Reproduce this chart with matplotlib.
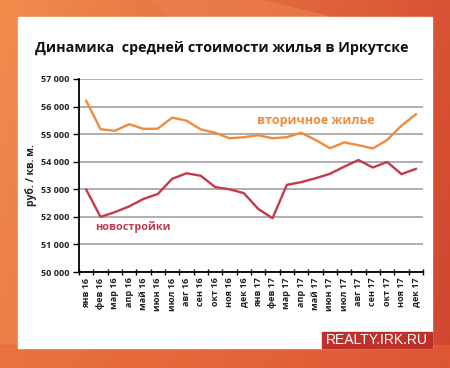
import numpy as np
import matplotlib
matplotlib.use("Agg")
from matplotlib import pyplot as plt
from matplotlib.patches import Rectangle, Polygon

months = ["янв 16", "фев 16", "мар 16", "апр 16", "май 16", "июн 16", "июл 16", "авг 16",
          "сен 16", "окт 16", "ноя 16", "дек 16", "янв 17", "фев 17", "мар 17", "апр 17",
          "май 17", "июн 17", "июл 17", "авг 17", "сен 17", "окт 17", "ноя 17", "дек 17"]
secondary = [56210, 55180, 55120, 55360, 55190, 55200, 55600, 55490, 55170, 55050, 54850, 54890,
             54960, 54850, 54890, 55050, 54790, 54490, 54700, 54600, 54480, 54790, 55310, 55720]
new_build = [52990, 52000, 52170, 52380, 52650, 52830, 53380, 53580, 53490, 53080, 53000, 52860,
             52290, 51950, 53160, 53260, 53400, 53560, 53820, 54060, 53790, 53990, 53550, 53740]
yticks = [50000, 51000, 52000, 53000, 54000, 55000, 56000, 57000]

plt.rcParams['font.family'] = ['Open Sans', 'DejaVu Sans']

W, H = 450, 368
fig = plt.figure(figsize=(W / 100, H / 100), dpi=100)

# orange background
bg = fig.add_axes([0, 0, 1, 1])
bg.set_axis_off()
gx = np.linspace(0, 1, 200)
gy = np.linspace(0, 1, 200)
GX, GY = np.meshgrid(gx, gy)
t = np.clip(GX * 0.8 + GY * 0.2, 0, 1)
c1 = np.array([0.95, 0.55, 0.30])
c2 = np.array([0.82, 0.27, 0.18])
img = c1[None, None, :] * (1 - t[..., None]) + c2[None, None, :] * t[..., None]
bg.imshow(img, extent=[0, W, H, 0], aspect='auto')
bg.add_patch(Polygon([[150, 0], [260, 0], [330, 17], [170, 17]], color='#ee8050', alpha=0.6))
bg.add_patch(Polygon([[0, 345], [450, 345], [450, 368], [0, 368]], color='#e8683a', alpha=0.5))
bg.add_patch(Rectangle((18, 17), 414, 331, color='white'))
bg.add_patch(Rectangle((322, 332), 110, 16, color='#c0302a'))
bg.text(377, 340.5, "REALTY.IRK.RU", color='white', fontsize=10, ha='center', va='center',
        family=['Liberation Sans', 'DejaVu Sans'])
bg.text(222, 48, "Динамика  средней стоимости жилья в Иркутске", fontsize=10.3, fontweight='bold',
        ha='center', va='center', color='#111111')
bg.text(31, 175, "руб. / кв. м.", fontsize=7.5, fontweight='bold', rotation=90,
        ha='center', va='center', color='#222222')
bg.set_xlim(0, W)
bg.set_ylim(H, 0)

ax = fig.add_axes([79 / W, 1 - 272 / H, (423 - 79) / W, (272 - 79) / H])
ax.set_facecolor('none')
x = np.arange(len(months))
ax.plot(x, secondary, color='#f08a3c', lw=1.7)
ax.plot(x, new_build, color='#c23a4c', lw=1.7)
ax.set_xlim(-0.5, len(months) - 0.5)
ax.set_ylim(50000, 57000)
ax.set_yticks(yticks)
ax.set_yticklabels([f"{v // 1000} 000" for v in yticks], fontsize=6.5, fontweight='bold', color='#222222')
ax.set_xticks(x)
ax.set_xticklabels(months, rotation=90, fontsize=6.5, fontweight='bold', color='#222222')
ax.set_xticks(np.arange(len(months) + 1) - 0.5, minor=True)
ax.tick_params(axis='x', which='major', length=0, pad=4)
ax.tick_params(axis='x', which='minor', length=5, width=1, direction='inout')
ax.tick_params(axis='y', length=4, width=1, direction='out', pad=3)
ax.grid(axis='y', color='#a8a8a8', lw=1.3)
ax.set_axisbelow(True)
for s in ['top', 'right']:
    ax.spines[s].set_visible(False)
ax.spines['left'].set_linewidth(1.3)
ax.spines['bottom'].set_linewidth(1.3)

ax.text(11.9, 55480, "вторичное жилье", color='#f08a3c', fontsize=9, fontweight='bold', va='center')
ax.text(0.65, 51630, "новостройки", color='#c23a4c', fontsize=7.8, fontweight='bold', va='center')

fig.savefig("out.png", dpi=100)
